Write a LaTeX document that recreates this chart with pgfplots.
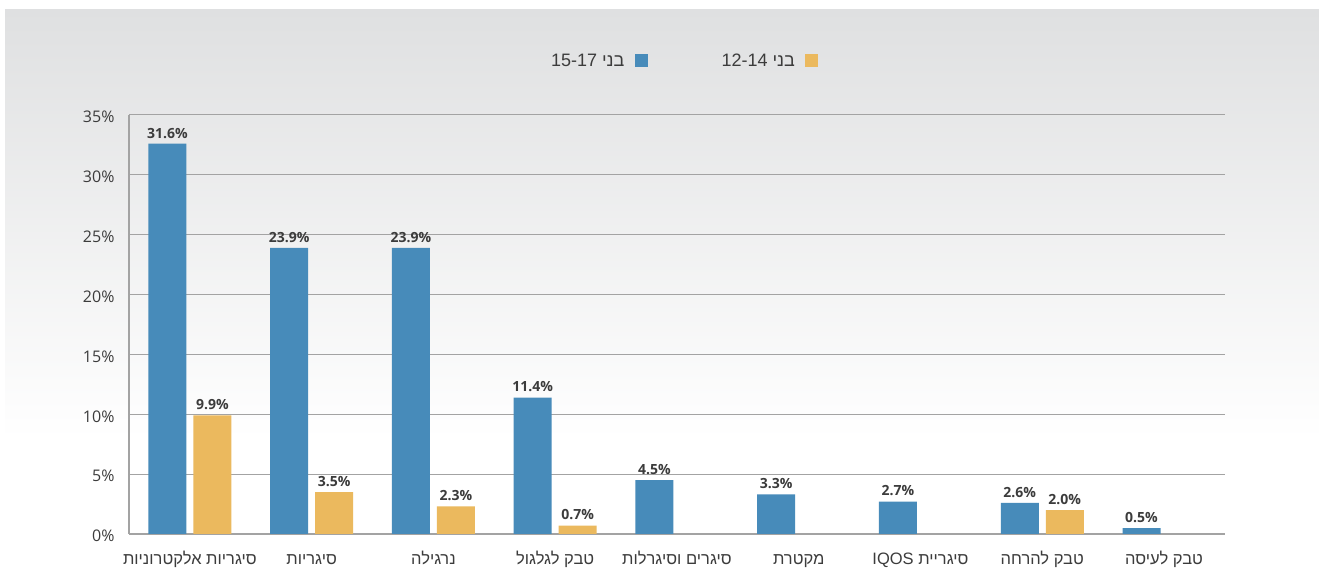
\documentclass[border=0pt]{standalone}
\usepackage{fontspec}
\usepackage{pgfplots}
\pgfplotsset{compat=1.18}
\setmainfont{Open Sans}
\newfontfamily\hebfont[Script=Hebrew]{Liberation Sans}
\TeXXeTstate=1
\definecolor{blu}{HTML}{478BBA}
\definecolor{org}{HTML}{EBB95E}
\definecolor{lbl}{HTML}{3C3C3C}
\definecolor{grd}{HTML}{A3A3A3}
\definecolor{bgtop}{HTML}{DFE0E1}

\begin{document}
\begin{tikzpicture}[x=1pt,y=1pt]
\path[use as bounding box] (0,0) rectangle (1319,569);
\fill[white] (0,0) rectangle (1319,569);
\shade[top color=bgtop, bottom color=white] (5,130) rectangle (1319,559);
\begin{axis}[
  at={(129pt,35pt)}, anchor=south west,
  scale only axis, width=1096pt, height=419pt,
  xmin=-0.5, xmax=8.5, ymin=0, ymax=35,
  axis x line*=bottom, axis y line*=left,
  axis line style={grd, line width=1.2pt},
  ymajorgrids, major grid style={grd, line width=1pt},
  ytick={0,5,...,35},
  yticklabels={0\%,5\%,10\%,15\%,20\%,25\%,30\%,35\%},
  ytick style={draw=none}, xtick style={draw=none},
  yticklabel style={font=\fontsize{16}{18}\selectfont, text=lbl, xshift=-11pt, yshift=-2pt},
  xtick={0,...,8},
  xticklabels={
    {\hebfont\beginR סיגריות אלקטרוניות\endR},
    {\hebfont\beginR סיגריות\endR},
    {\hebfont\beginR נרגילה\endR},
    {\hebfont\beginR טבק לגלגול\endR},
    {\hebfont\beginR סיגרים וסיגרלות\endR},
    {\hebfont\beginR מקטרת\endR},
    {\hebfont\beginR סיגריית \beginL IQOS\endL\endR},
    {\hebfont\beginR טבק להרחה\endR},
    {\hebfont\beginR טבק לעיסה\endR}},
  xticklabel style={font=\fontsize{16.5}{20}\selectfont, text=lbl,
    text height=12pt, text depth=4pt, yshift=-11pt},
  extra x ticks={0.5,1.5,...,8.5},
  extra x tick labels={},
  extra x tick style={major tick length=10pt, tick align=inside,
    tick style={draw=grd, line width=1pt}},
  ybar, bar width=38pt,
  point meta=explicit symbolic,
  nodes near coords,
  nodes near coords style={font=\bfseries\fontsize{14}{15}\selectfont, text=lbl, anchor=south, yshift=2pt},
  legend columns=2,
  legend plot pos=right,
  legend style={draw=none, fill=none, at={(0.506,1.129)}, anchor=center,
    font=\fontsize{18}{20}\selectfont, text=lbl,
    /tikz/every even column/.append style={column sep=72pt}},
  clip=false,
]
\addplot[fill=blu, draw=none, bar shift=-22.5pt,
  legend image code/.code={\path (0pt,0pt); \fill[blu] (8pt,-6pt) rectangle (21pt,7pt);}]
  coordinates {
  (0,32.6) [31.6\%]
  (1,23.9) [23.9\%]
  (2,23.9) [23.9\%]
  (3,11.4) [11.4\%]
  (4,4.5) [4.5\%]
  (5,3.3) [3.3\%]
  (6,2.7) [2.7\%]
  (7,2.6) [2.6\%]
  (8,0.5) [0.5\%]
};
\addplot[fill=org, draw=none, bar shift=22.5pt,
  legend image code/.code={\path (0pt,0pt); \fill[org] (8pt,-6pt) rectangle (21pt,7pt);}]
  coordinates {
  (0,9.9) [9.9\%]
  (1,3.5) [3.5\%]
  (2,2.3) [2.3\%]
  (3,0.7) [0.7\%]
  (7,2.0) [2.0\%]
};
\addlegendentry{{\hebfont\beginR בני \beginL 15-17\endL\endR}}
\addlegendentry{{\hebfont\beginR בני \beginL 12-14\endL\endR}}
\end{axis}
\end{tikzpicture}
\end{document}
